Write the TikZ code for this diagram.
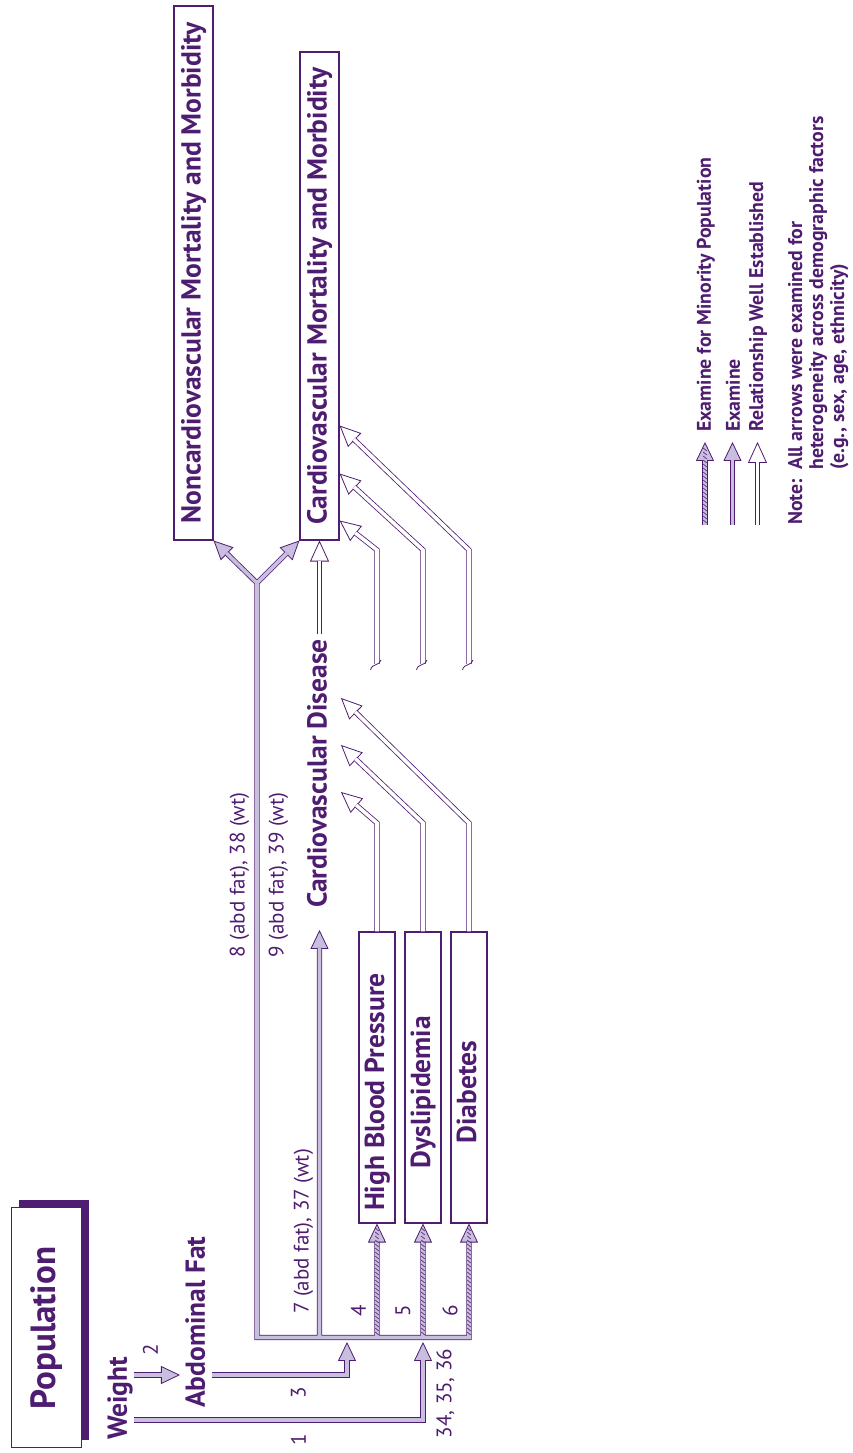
\documentclass[tikz,border=0pt]{standalone}
\usepackage{fontspec}
\setmainfont{PT Sans}
\usetikzlibrary{arrows.meta, calc, shadows}

\definecolor{plum}{RGB}{78,28,112}
\definecolor{lilac}{RGB}{200,190,222}

\tikzset{
  popbox/.style={draw=plum, line width=1pt, fill=white, minimum width=240pt, minimum height=70pt, text=plum, font=\bfseries\fontsize{35}{38}\selectfont, drop shadow={shadow xshift=7pt, shadow yshift=7.5pt, fill=plum, opacity=1}},
  factor/.style={draw=plum, line width=1.1pt, fill=white, minimum width=291pt, minimum height=36pt, inner sep=0pt},
  outcome/.style={draw=plum, line width=1.1pt, fill=white, minimum height=39pt, inner sep=0pt, text=plum, font=\bfseries\fontsize{27.5}{31}\selectfont, text height=20pt, text depth=5.5pt},
  factortext/.style={text=plum, font=\bfseries\fontsize{27.5}{31}\selectfont, inner sep=0pt, text height=20pt, text depth=5.5pt},
  num/.style={text=plum, font=\fontsize{21}{24}\selectfont, inner sep=0pt},
  legtext/.style={text=plum, font=\bfseries\fontsize{19.8}{21}\selectfont, inner sep=0pt},
  examine/.style={draw=plum, line width=0.8pt, double=lilac, double distance=3.6pt},
  estab/.style={draw=plum, line width=0.8pt, double=white, double distance=3.6pt},
  exhead/.style={-{Triangle[length=19pt, width=18pt, fill=lilac, line width=0.8pt]}, draw=plum, line width=0.8pt},
  esthead/.style={-{Triangle[length=21pt, width=19pt, fill=white, line width=0.8pt]}, draw=plum, line width=0.8pt},
  hatch/.style={draw=plum, line width=0.6pt},
  squiggle/.style={draw=plum, line width=0.8pt},
}

\begin{document}
\begin{tikzpicture}[x=1pt, y=1pt, rotate=90, transform shape]
\useasboundingbox (0,0) rectangle (1453,852);

% population, weight, abdominal fat
\node[popbox] (pop) at (125,805) {Population};
\node[factortext, anchor=base west] (weight) at (13,725) {Weight};
\node[factortext, anchor=base west] (abdfat) at (45,647) {Abdominal Fat};

% intermediate conditions
\node[factor] (hbp) at (375.5,475) {};
\node[factortext] (hbptext) at (361,475) {High Blood Pressure};
\node[factor] (dys) at (375.5,429) {};
\node[factortext] (dystext) at (361,429) {Dyslipidemia};
\node[factor] (diab) at (375.5,383) {};
\node[factortext] (diabtext) at (361,383) {Diabetes};

% outcomes
\node[factortext, anchor=west] (cvd) at (545,532.5) {Cardiovascular Disease};
\node[outcome, minimum width=488pt] (cvmort) at (1157,532.5) {Cardiovascular Mortality and Morbidity};
\node[outcome, minimum width=534pt] (noncvmort) at (1180,658.5) {Noncardiovascular Mortality and Morbidity};

% arrow numbers
\node[num] (l1) at (13,553.5) {1};
\node[num] (l2) at (103,701.5) {2};
\node[num] (l3) at (60,553.5) {3};
\node[num] (l34) at (59.5,406.5) {34, 35, 36};
\node[num] (l4) at (142,493.5) {4};
\node[num] (l5) at (142,449) {5};
\node[num] (l6) at (142,402) {6};
\node[num] (l7) at (221.5,548.5) {7 (abd fat), 37 (wt)};
\node[num] (l8) at (578,612.5) {8 (abd fat), 38 (wt)};
\node[num] (l9) at (578,573.5) {9 (abd fat), 39 (wt)};

% junctions and ends
\coordinate (w1) at (33,718);
\coordinate (b1) at (33,429);
\coordinate (t1) at (111,429);
\coordinate (w2) at (78,718);
\coordinate (t2) at (78,672);
\coordinate (a3) at (78,640);
\coordinate (b3) at (78,505);
\coordinate (t3) at (111,505);
\coordinate (barleft) at (115.5,595);
\coordinate (barright) at (115.5,383);
\coordinate (j7) at (115.5,532.5);
\coordinate (jh) at (115.5,475);
\coordinate (jd) at (115.5,429);
\coordinate (fork) at (870,595);
\coordinate (c7) at ($(cvd.west)+(-22,0)$);

% heads of the examine arrows
\draw[exhead] ($(t1)!19pt!(b1)$) -- (t1);
\draw[exhead] ($(t2)!19pt!(w2)$) -- (t2);
\draw[exhead] ($(t3)!19pt!(b3)$) -- (t3);
\draw[exhead] ($(noncvmort.south west)!19pt!(fork)$) -- (noncvmort.south west);
\draw[exhead] ($(cvmort.north west)!19pt!(fork)$) -- (cvmort.north west);
\draw[exhead] ($(c7)+(-19,0)$) -- (c7);
\draw[exhead] ($(hbp.west)+(-19,0)$) -- (hbp.west);
\draw[exhead] ($(dys.west)+(-19,0)$) -- (dys.west);
\draw[exhead] ($(diab.west)+(-19,0)$) -- (diab.west);

% examine shafts
\draw[examine] (w1) -- (b1) -- ($(t1)!18pt!(b1)$);
\draw[examine] (w2) -- ($(t2)!18pt!(w2)$);
\draw[examine] (a3) -- (b3) -- ($(t3)!18pt!(b3)$);
\draw[examine]
  ($(noncvmort.south west)!18pt!(fork)$) -- (fork) -- ($(cvmort.north west)!18pt!(fork)$)
  (fork) -- (barleft) -- (barright) -- ($(diab.west)+(-18,0)$)
  (j7) -- ($(c7)+(-18,0)$)
  (jh) -- ($(hbp.west)+(-18,0)$)
  (jd) -- ($(dys.west)+(-18,0)$);

% minority population hatching
\foreach \y in {475,429,383}
  \foreach \x in {118,122,...,222}
    \draw[hatch] (\x,\y-1.8) -- (\x+3,\y+1.8);

% relationship well established
\coordinate (e1) at ($(cvd.south west)+(116,-8.5)$);
\coordinate (e2) at ($(cvd.south west)+(163,-8.5)$);
\coordinate (e3) at ($(cvd.south west)+(210,-8.5)$);
\coordinate (bh) at (630,475);
\coordinate (bd) at (630,429);
\coordinate (bb) at (630,383);
\draw[esthead] ($(e1)!21pt!(bh)$) -- (e1);
\draw[esthead] ($(e2)!21pt!(bd)$) -- (e2);
\draw[esthead] ($(e3)!21pt!(bb)$) -- (e3);
\draw[estab] (hbp.east) -- (bh) -- ($(e1)!20pt!(bh)$);
\draw[estab] (dys.east) -- (bd) -- ($(e2)!20pt!(bd)$);
\draw[estab] (diab.east) -- (bb) -- ($(e3)!20pt!(bb)$);

\coordinate (f1) at ($(cvmort.south west)+(20,0)$);
\coordinate (f2) at ($(cvmort.south west)+(67,0)$);
\coordinate (f3) at ($(cvmort.south west)+(115,0)$);
\coordinate (gh) at (903,475);
\coordinate (gd) at (903,429);
\coordinate (gb) at (903,383);
\draw[esthead] ($(f1)!21pt!(gh)$) -- (f1);
\draw[esthead] ($(f2)!21pt!(gd)$) -- (f2);
\draw[esthead] ($(f3)!21pt!(gb)$) -- (f3);
\foreach \y/\g/\f in {475/gh/f1, 429/gd/f2, 383/gb/f3} {
  \draw[estab] (789,\y) -- (\g) -- ($(\f)!20pt!(\g)$);
  \draw[squiggle] (793,\y-4) .. controls (787,\y-3) and (790,\y+5) .. (783,\y+6.5);
}

\draw[esthead] ($(cvmort.west)+(-21,0)$) -- (cvmort.west);
\draw[estab] ($(cvd.east)+(5,0)$) -- ($(cvmort.west)+(-20,0)$);

% legend
\node[legtext, anchor=base west] (legmin) at (1021,141) {Examine for Minority Population};
\node[legtext, anchor=base west] (legex) at (1021,112) {Examine};
\node[legtext, anchor=base west] (legest) at (1021,89) {Relationship Well Established};
\coordinate (m0) at (928,147);
\coordinate (m1) at (1011,147);
\coordinate (x0) at (928,119.5);
\coordinate (x1) at (1011,119.5);
\coordinate (r0) at (928,94.5);
\coordinate (r1) at (1011,94.5);
\draw[exhead] ($(m1)+(-19,0)$) -- (m1);
\draw[exhead] ($(x1)+(-19,0)$) -- (x1);
\draw[esthead] ($(r1)+(-21,0)$) -- (r1);
\draw[examine] (m0) -- ($(m1)+(-18,0)$);
\draw[examine] (x0) -- ($(x1)+(-18,0)$);
\draw[estab] (r0) -- ($(r1)+(-20,0)$);
\foreach \x in {930,934,...,1002}
  \draw[hatch] (\x,147-1.8) -- (\x+3,147+1.8);

\node[legtext, anchor=base west, align=left] (note) at (928,8)
  {\makebox[55pt][l]{Note:}All arrows were examined for\\
   \hspace*{55pt}heterogeneity across demographic factors\\
   \hspace*{55pt}(e.g., sex, age, ethnicity)};
\end{tikzpicture}
\end{document}
